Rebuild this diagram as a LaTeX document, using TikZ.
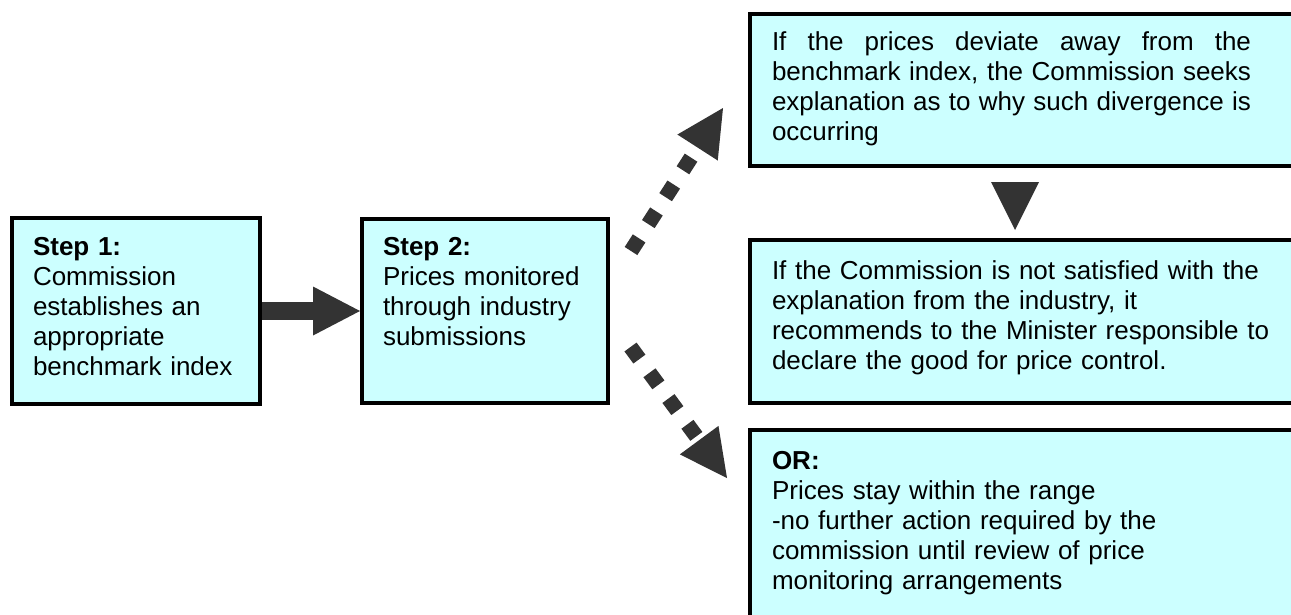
\documentclass[tikz,border=0pt]{standalone}
\usepackage{fontspec}
\setmainfont{Liberation Sans}
\usetikzlibrary{arrows.meta,backgrounds}
\definecolor{boxfill}{HTML}{CCFFFF}
\definecolor{arrowgray}{HTML}{333333}
\begin{document}
\begin{tikzpicture}[x=1pt,y=-1pt,
  box/.style={draw=black, line width=4pt, fill=boxfill, rectangle,
    inner sep=0pt, outer sep=0pt, anchor=north west},
  txt/.style={inner sep=0pt, outer sep=0pt, anchor=base west, align=left,
    font=\fontsize{26}{30}\selectfont},
  bigarrow/.style={draw=arrowgray, line width=18pt,
    -{Triangle[length=47pt,width=49pt,line width=0pt]}},
  dotarrow/.style={draw=arrowgray, line width=15pt, dash pattern=on 15pt off 17pt,
    -{Triangle[length=47pt,width=48pt,line width=0pt]}},
  headonly/.style={draw=arrowgray, line width=1pt,
    -{Triangle[length=48pt,width=48pt,line width=0pt]}},
]
\useasboundingbox (0,0) rectangle (1291,614);
\clip (0,0) rectangle (1291,614);

% boxes
\node[box, minimum width=248pt, minimum height=186pt] (s1) at (12,218) {};
\node[box, minimum width=246pt, minimum height=184pt] (s2) at (362,219) {};
\node[box, minimum width=550pt, minimum height=152pt] (dev) at (750,14) {};
\node[box, minimum width=550pt, minimum height=163pt] (rec) at (750,240) {};
\node[box, minimum width=550pt, minimum height=210pt] (ok) at (750,430) {};

% texts
\node[txt, text width=230pt] (s1t) at (33,255)
  {\textbf{Step 1:}\\Commission\\establishes an\\appropriate\\benchmark index};
\node[txt, text width=230pt] (s2t) at (383,255)
  {\textbf{Step 2:}\\Prices monitored\\through industry\\submissions};
\node[txt, text width=479pt, align=justify] (devt) at (772,50)
  {If the prices deviate away from the\linebreak
   benchmark index, the Commission seeks\linebreak
   explanation as to why such divergence is\linebreak
   occurring};
\node[txt, text width=500pt] (rect) at (772,279)
  {If the Commission is not satisfied with the\\explanation from the industry, it\\recommends to the Minister responsible to\\declare the good for price control.};
\node[txt, text width=500pt] (okt) at (772,469)
  {\textbf{OR:}\\Prices stay within the range\\-no further action required by the\\commission until review of price\\monitoring arrangements};

% free ends of the connectors
\coordinate (u0) at (631,251);
\coordinate (u1) at (723,108);
\coordinate (l0) at (630.5,347);
\coordinate (l1) at (727,478);
\coordinate (d0) at (1015,182);
\coordinate (d1) at (1015,230);

\begin{pgfonlayer}{background}
  \draw[bigarrow, shorten >=2pt] (s1.east) -- (s2.west);
  \draw[dotarrow] (u0) -- (u1);
  \draw[dotarrow] (l0) -- (l1);
  \draw[headonly] (d0) -- (d1);
\end{pgfonlayer}
\end{tikzpicture}
\end{document}
